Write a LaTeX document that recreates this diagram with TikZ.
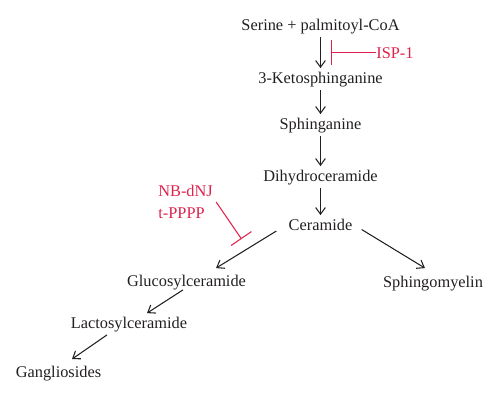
\documentclass[tikz,border=0pt]{standalone}
\usepackage{fontspec}
\setmainfont{Liberation Serif}
\usetikzlibrary{arrows.meta,calc}
\definecolor{ink}{RGB}{35,31,32}
\definecolor{inhib}{RGB}{222,34,75}
\tikzset{
  mol/.style={font=\fontsize{9.3}{11}\selectfont, text=ink, inner sep=1.5pt, text height=7pt, text depth=2pt},
  drug/.style={font=\fontsize{9.3}{12.5}\selectfont, text=inhib, inner sep=0pt, align=left},
  arr/.style={draw=ink, line width=0.6pt, -{Straight Barb[length=3.8pt,width=5.5pt,line width=0.6pt]}},
  blk/.style={draw=inhib, line width=0.6pt, -{Bar[width=14pt,line width=0.6pt]}}
}
\begin{document}
\begin{tikzpicture}[x=0.02cm,y=-0.02cm]
\useasboundingbox (0,0) rectangle (500,400);
\node[mol] (ser) at (320.5,26) {Serine + palmitoyl-CoA};
\node[mol] (keto) at (320.5,79) {3-Ketosphinganine};
\node[mol] (sphg) at (320.5,125) {Sphinganine};
\node[mol] (dihy) at (320.5,177) {Dihydroceramide};
\node[mol] (cer) at (320.5,226) {Ceramide};
\node[mol] (gluc) at (186.5,282) {Glucosylceramide};
\node[mol] (sphm) at (433,283) {Sphingomyelin};
\node[mol] (lact) at (129,324) {Lactosylceramide};
\node[mol] (gang) at (58.5,373) {Gangliosides};
\node[drug, anchor=west] (isp) at (376,53) {ISP-1};
\node[drug, anchor=west] (nb) at (158,202) {NB-dNJ\\t-PPPP};
\coordinate (ispend) at (330.5,52.5);
\coordinate (nbend) at (241.5,239);
\draw[arr] (ser) -- (keto);
\draw[arr] (keto) -- (sphg);
\draw[arr] (sphg) -- (dihy);
\draw[arr] (dihy) -- (cer);
\draw[arr] ([shift={(-9.4,5)}]cer.west) -- ([shift={(29.5,-3)}]gluc.north);
\draw[arr] ([shift={(6.4,3.5)}]cer.east) -- ([shift={(-8,-4)}]sphm.north);
\draw[arr] ([shift={(-3.5,-3)}]gluc.south) -- ([shift={(18,0)}]lact.north);
\draw[arr] ([shift={(-22,0)}]lact.south) -- ([shift={(13.5,-3)}]gang.north);
\draw[blk] (isp.west |- ispend) -- (ispend);
\draw[blk] ([shift={(3,0)}]nb.east) -- (nbend);
\end{tikzpicture}
\end{document}
